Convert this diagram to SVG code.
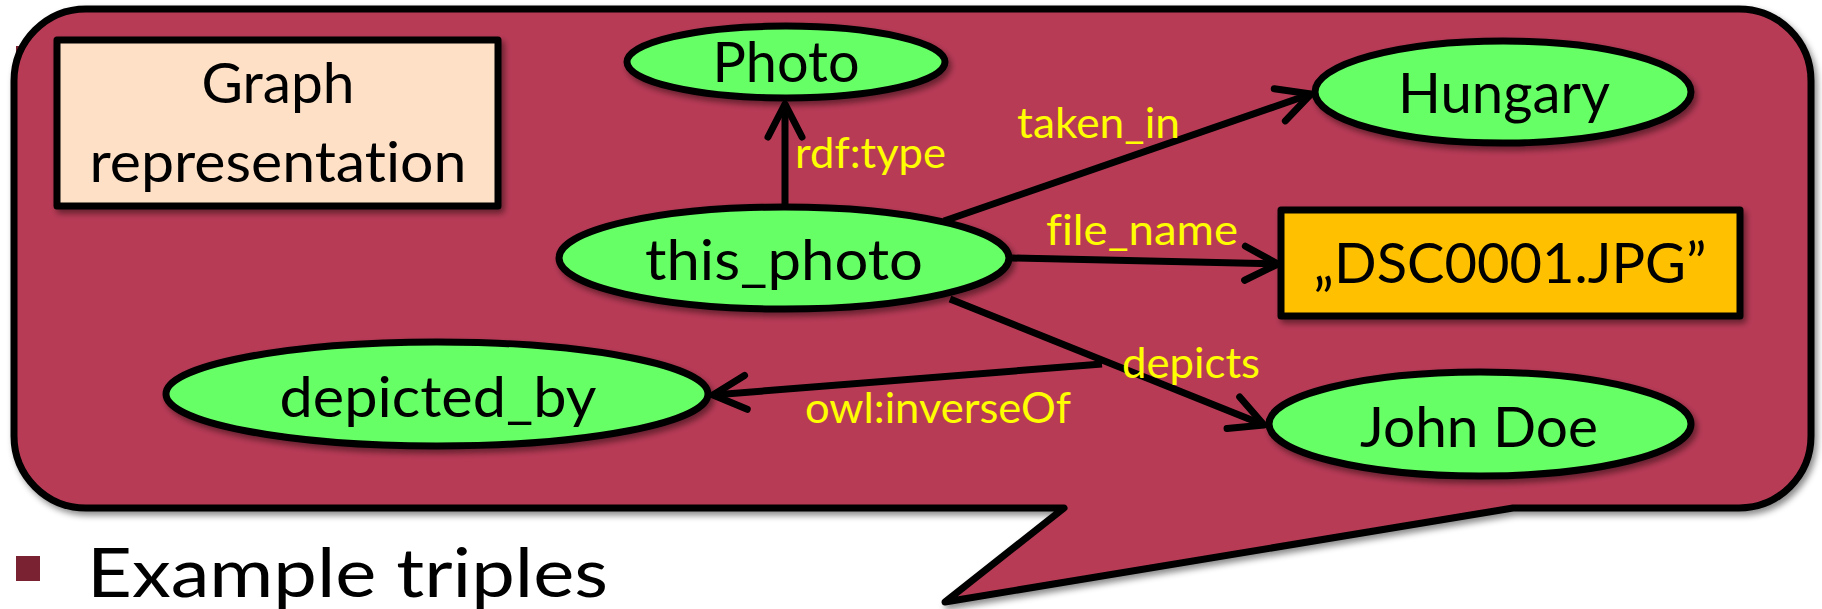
<svg xmlns="http://www.w3.org/2000/svg" width="1822" height="609" viewBox="0 0 1822 609">
  <style>
    text { font-variant-ligatures: none; font-feature-settings: "liga" 0, "clig" 0; }
    .node { fill: #66ff66; stroke: #000; stroke-width: 7; }
    .lbl { font-family: Lato, "Liberation Sans", sans-serif; font-size: 57px; fill: #000; text-anchor: middle; }
    .edge { fill: none; stroke: #000; stroke-width: 7; stroke-linecap: butt; }
    .elbl { font-family: Lato, "Liberation Sans", sans-serif; font-size: 42px; fill: #ffff00; }
  </style>
  <defs>
    <filter id="shadow" x="-10%" y="-20%" width="120%" height="150%">
      <feDropShadow dx="3" dy="4" stdDeviation="3" flood-color="#000" flood-opacity="0.45"/>
    </filter>
    <marker id="arrow" markerUnits="userSpaceOnUse" orient="auto" viewBox="-45 -25 55 50" refX="0" refY="0" markerWidth="55" markerHeight="50" overflow="visible">
      <path d="M-33,-17 L0,0 L-33,17" fill="none" stroke="#000" stroke-width="7" stroke-linecap="round" stroke-linejoin="round"/>
    </marker>
  </defs>

  <rect width="1822" height="609" fill="#ffffff"/>

  <!-- bullet partly hidden behind the callout -->
  <rect x="16" y="46" width="24" height="25" fill="#7b2232"/>

  <!-- callout background -->
  <g id="callout">
    <path d="M86,9 H1739 A72,72 0 0 1 1811,81 V436 A72,72 0 0 1 1739,508 H1513 L945,602 L1064,508 H86 A72,72 0 0 1 14,436 V81 A72,72 0 0 1 86,9 Z"
          fill="#b83b56" stroke="#000" stroke-width="7" stroke-linejoin="round" filter="url(#shadow)"/>
  </g>

  <!-- title box -->
  <g id="title">
    <rect x="57" y="40" width="441" height="166" fill="#fde0c6" stroke="#000" stroke-width="7" stroke-linejoin="round" filter="url(#shadow)"/>
    <text class="lbl" x="278" y="103" textLength="153" lengthAdjust="spacingAndGlyphs">Graph</text>
    <text class="lbl" x="278" y="182" textLength="377" lengthAdjust="spacingAndGlyphs">representation</text>
  </g>

  <!-- connectors -->
  <g id="connectors">
    <line class="edge" x1="785" y1="207" x2="785" y2="104" marker-end="url(#arrow)"/>
    <line class="edge" x1="944" y1="221" x2="1311" y2="94" marker-end="url(#arrow)"/>
    <line class="edge" x1="1012" y1="258" x2="1278" y2="264" marker-end="url(#arrow)"/>
    <line class="edge" x1="950" y1="299" x2="1264" y2="425" marker-end="url(#arrow)"/>
    <line class="edge" x1="1102" y1="364" x2="713" y2="395" marker-end="url(#arrow)"/>
    <text class="elbl" x="795" y="168" textLength="151" lengthAdjust="spacingAndGlyphs">rdf:type</text>
    <text class="elbl" x="1017" y="138" textLength="163" lengthAdjust="spacingAndGlyphs">taken_in</text>
    <text class="elbl" x="1046" y="245" textLength="192" lengthAdjust="spacingAndGlyphs">file_name</text>
    <text class="elbl" x="1122" y="378" textLength="138" lengthAdjust="spacingAndGlyphs">depicts</text>
    <text class="elbl" x="805" y="423" textLength="266" lengthAdjust="spacingAndGlyphs">owl:inverseOf</text>
  </g>

  <!-- nodes -->
  <g id="node-photo">
    <ellipse class="node" cx="786" cy="62" rx="159" ry="36" filter="url(#shadow)"/>
    <text class="lbl" x="786" y="82" textLength="147" lengthAdjust="spacingAndGlyphs">Photo</text>
  </g>
  <g id="node-this-photo">
    <ellipse class="node" cx="784" cy="258" rx="225" ry="51" filter="url(#shadow)"/>
    <text class="lbl" x="784" y="280" textLength="278" lengthAdjust="spacingAndGlyphs">this_photo</text>
  </g>
  <g id="node-hungary">
    <ellipse class="node" cx="1503" cy="92" rx="188" ry="51" filter="url(#shadow)"/>
    <text class="lbl" x="1504" y="113" textLength="212" lengthAdjust="spacingAndGlyphs">Hungary</text>
  </g>
  <g id="node-filename">
    <rect x="1281" y="210" width="459" height="106" fill="#ffc000" stroke="#000" stroke-width="7" stroke-linejoin="round" filter="url(#shadow)"/>
    <text class="lbl" x="1510" y="283" textLength="393" lengthAdjust="spacingAndGlyphs">„DSC0001.JPG”</text>
  </g>
  <g id="node-depicted-by">
    <ellipse class="node" cx="437" cy="394" rx="271" ry="52" filter="url(#shadow)"/>
    <text class="lbl" x="438" y="417" textLength="317" lengthAdjust="spacingAndGlyphs">depicted_by</text>
  </g>
  <g id="node-john-doe">
    <ellipse class="node" cx="1480" cy="424" rx="211" ry="52" filter="url(#shadow)"/>
    <text class="lbl" x="1479" y="447" textLength="238" lengthAdjust="spacingAndGlyphs">John Doe</text>
  </g>

  <!-- bullet line below the callout -->
  <g id="bullet">
    <rect x="16" y="556" width="24" height="25" fill="#7b2232"/>
    <text x="87" y="597" font-family="Lato, 'Liberation Sans', sans-serif" font-size="68" fill="#000" textLength="521" lengthAdjust="spacingAndGlyphs">Example triples</text>
  </g>
</svg>
